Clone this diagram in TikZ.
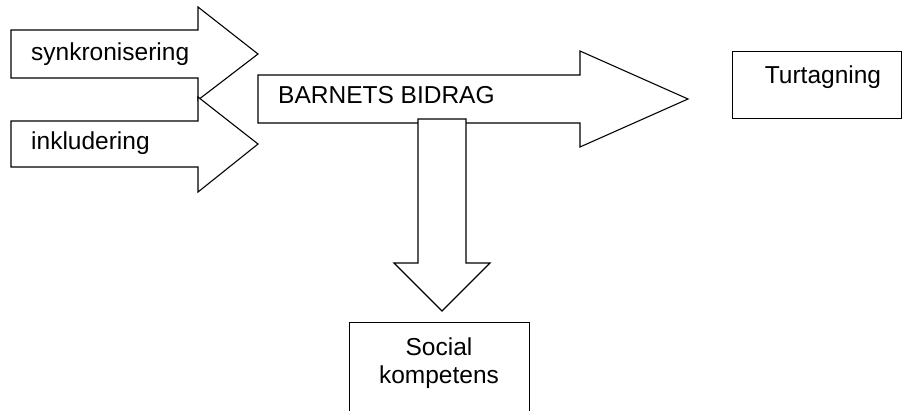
\documentclass[tikz,border=0pt]{standalone}
\usepackage{fontspec}
\setmainfont{Liberation Sans}
\usepackage{tikz}
\tikzstyle{blockarrow} = [draw=black, fill=white, line width=1.1pt, line join=miter]
\tikzstyle{labelbox} = [draw=black, fill=white, line width=1.1pt, rectangle, inner sep=0pt]
\tikzstyle{arrowtext} = [inner sep=0pt, anchor=base west, font=\fontsize{24.5}{28}\selectfont]
\tikzstyle{boxtext} = [inner sep=0pt, anchor=base, align=center, font=\fontsize{24.5}{28}\selectfont]

\begin{document}
\begin{tikzpicture}[x=1pt, y=-1pt]
    \clip (0,0) rectangle (902,410);
    % left arrows
    \draw[blockarrow] (11,30) -- (198,30) -- (198,7) -- (258,54) -- (198,100) -- (198,78) -- (11,78) -- cycle;
    \draw[blockarrow] (11,121) -- (198,121) -- (198,97) -- (258,144) -- (198,192) -- (198,167) -- (11,167) -- cycle;
    \node[arrowtext] (synk) at (31,60) {synkronisering};
    \node[arrowtext] (inkl) at (31,149) {inkludering};
    % main arrow
    \draw[blockarrow] (258,75) -- (580,75) -- (580,51) -- (688,99) -- (580,147) -- (580,123) -- (258,123) -- cycle;
    \node[arrowtext] (bidrag) at (278,103) {BARNETS BIDRAG};
    % down arrow
    \draw[blockarrow] (418,119) -- (466,119) -- (466,263) -- (490,263) -- (442,311) -- (394,263) -- (418,263) -- cycle;
    % boxes
    \node[labelbox, minimum width=169, minimum height=67, anchor=north west] (turtbox) at (732,51) {};
    \node[boxtext] (turtag) at (823,83) {Turtagning};
    \node[labelbox, minimum width=180, minimum height=100, anchor=north west] (socbox) at (349,322) {};
    \node[boxtext] (social) at (439,383) {Social\\kompetens};
\end{tikzpicture}
\end{document}
